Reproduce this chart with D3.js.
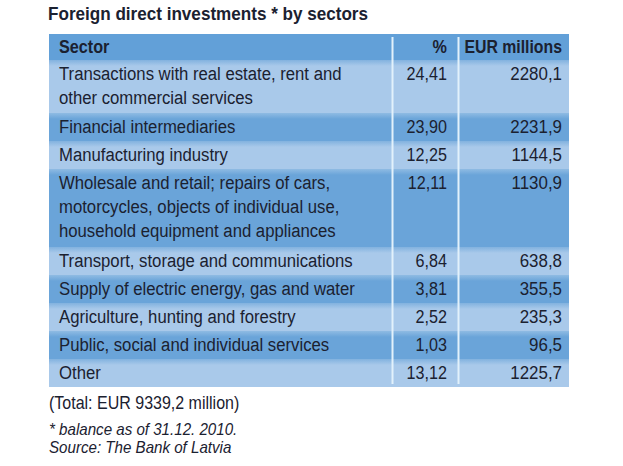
<!DOCTYPE html>
<html><head><meta charset="utf-8">
<script src="https://cdn.jsdelivr.net/npm/d3@7"></script>
<style>
html,body{margin:0;padding:0;background:#fff;}
svg{display:block;}
text{font-family:"Liberation Sans","Arial","Roboto",sans-serif;fill:#1b2130;}
</style></head>
<body>
<svg id="chart" width="623" height="466"></svg>
<script>
const title = "Foreign direct investments * by sectors";
const headers = ["Sector", "%", "EUR millions"];
const sectors = [
  ["Transactions with real estate, rent and", "other commercial services"],
  ["Financial intermediaries"],
  ["Manufacturing industry"],
  ["Wholesale and retail; repairs of cars,", "motorcycles, objects of individual use,", "household equipment and appliances"],
  ["Transport, storage and communications"],
  ["Supply of electric energy, gas and water"],
  ["Agriculture, hunting and forestry"],
  ["Public, social and individual services"],
  ["Other"]
];
const percents = ["24,41", "23,90", "12,25", "12,11", "6,84", "3,81", "2,52", "1,03", "13,12"];
const eurMillions = ["2280,1", "2231,9", "1144,5", "1130,9", "638,8", "355,5", "235,3", "96,5", "1225,7"];
const footnotes = ["(Total: EUR 9339,2 million)", "* balance as of 31.12. 2010.", "Source: The Bank of Latvia"];

const svg = d3.select("#chart");
const left = 49, right = 569, headTop = 34, headH = 26;
const div1 = 392.5, div2 = 458.5;
const colPct = 447, colEur = 562;

// condensed text helper
function addText(sel, x, y, str, o) {
  o = o || {};
  return sel.append("text")
    .attr("transform", `translate(${x},${y}) scale(${o.sx || 0.88},1)`)
    .attr("text-anchor", o.anchor || "start")
    .style("font-size", (o.size || 19) + "px")
    .style("font-weight", o.weight || "normal")
    .style("font-style", o.italic ? "italic" : "normal")
    .text(str);
}

// cumulative row layout
const rowH = n => 28 + 25 * (n - 1);
let acc = headTop + headH;
const rows = sectors.map((s, i) => {
  const r = {i, lines: s, pct: percents[i], eur: eurMillions[i], y: acc, h: rowH(s.length)};
  acc += r.h; return r;
});
const tableBottom = acc;

const defs = svg.append("defs");
const g1 = defs.append("linearGradient").attr("id","shadeL").attr("x1",0).attr("y1",0).attr("x2",0).attr("y2",1);
g1.append("stop").attr("offset","0%").attr("stop-color","#82b2df");
g1.append("stop").attr("offset","100%").attr("stop-color","#a9c9ea");
const g2 = defs.append("linearGradient").attr("id","shadeD").attr("x1",0).attr("y1",0).attr("x2",0).attr("y2",1);
g2.append("stop").attr("offset","0%").attr("stop-color","#8fbbe3");
g2.append("stop").attr("offset","100%").attr("stop-color","#6aa4d9");

// title
addText(svg, left - 1, 20, title, {size: 19, weight: "bold", sx: 0.9});

// header
svg.append("rect").attr("x", left).attr("y", headTop).attr("width", right-left).attr("height", headH).attr("fill", "#62a0d8");

// rows
const rg = svg.selectAll("g.row").data(rows).join("g").attr("class","row");
rg.append("rect").attr("x", left).attr("y", d => d.y).attr("width", right-left).attr("height", d => d.h)
  .attr("fill", d => d.i % 2 === 0 ? "#a9c9ea" : "#6aa4d9");
rg.append("rect").attr("x", left).attr("y", d => d.y).attr("width", right-left).attr("height", 6)
  .attr("fill", d => d.i % 2 === 0 ? "url(#shadeL)" : "url(#shadeD)");

rg.each(function(d){
  const g = d3.select(this);
  d.lines.forEach((ln, k) => addText(g, 59, d.y + 20 + 24*k, ln));
  addText(g, colPct, d.y + 20, d.pct, {anchor: "end", sx: 0.85});
  addText(g, colEur, d.y + 20, d.eur, {anchor: "end", sx: 0.89});
});

// header text
addText(svg, 59, headTop + 19, headers[0], {size: 18, weight: "bold", sx: 0.9});
addText(svg, colPct, headTop + 19, headers[1], {size: 18, weight: "bold", sx: 0.9, anchor: "end"});
addText(svg, colEur, headTop + 19, headers[2], {size: 18, weight: "bold", sx: 0.88, anchor: "end"});

// dividers
[div1, div2].forEach(x => {
  svg.append("line").attr("x1", x).attr("x2", x).attr("y1", headTop + 3).attr("y2", tableBottom - 3)
    .attr("stroke", "#e2f1fb").attr("stroke-width", 2);
});

// footnotes
addText(svg, left, tableBottom + 22, footnotes[0], {size: 18, sx: 0.89});
addText(svg, left, tableBottom + 48, footnotes[1], {size: 17, sx: 0.89, italic: true});
addText(svg, left, tableBottom + 66, footnotes[2], {size: 17, sx: 0.89, italic: true});
</script>
</body></html>
